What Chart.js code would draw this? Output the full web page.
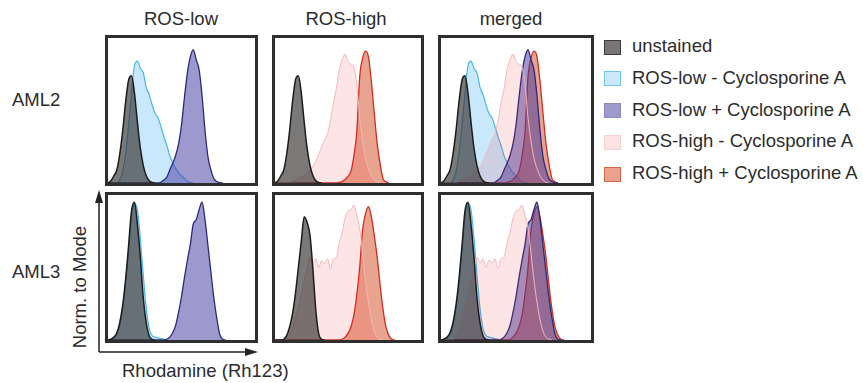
<!DOCTYPE html>
<html>
<head>
<meta charset="utf-8">
<script src="https://cdn.jsdelivr.net/npm/chart.js@4.4.0/dist/chart.umd.min.js"></script>
<style>
  body { margin: 0; background: #fff; width: 863px; height: 383px; position: relative; overflow: hidden;
         font-family: "Liberation Sans", Arial, sans-serif; color: #2c2c2c; }
  .t { position: absolute; font-size: 18.5px; line-height: 18px; white-space: nowrap; }
  .c { text-align: center; width: 200px; }
  canvas { position: absolute; }
  .box { position: absolute; left: 604px; width: 15px; height: 13px; border: 1px solid; }
</style>
</head>
<body>
<div class="t c" style="left:81px;top:10px">ROS-low</div>
<div class="t c" style="left:246px;top:10px">ROS-high</div>
<div class="t c" style="left:411px;top:10px">merged</div>
<div class="t" style="left:12px;top:91px">AML2</div>
<div class="t" style="left:12px;top:263px">AML3</div>
<div class="t c" style="left:-20px;top:278px;transform:rotate(-90deg)">Norm. to Mode</div>
<div class="t" style="left:122px;top:362px">Rhodamine (Rh123)</div>

<svg width="863" height="383" style="position:absolute;left:0;top:0">
  <path d="M99 352 V199 M99 352 H250" stroke="#222" stroke-width="1.5" fill="none"/>
  <path d="M99 190 L95 203 L103 203 Z M258 352 L245 348 L245 356 Z" fill="#222"/>
</svg>

<canvas id="p11" width="153" height="151" style="left:105px;top:35px"></canvas>
<canvas id="p12" width="152" height="151" style="left:272px;top:35px"></canvas>
<canvas id="p13" width="156" height="151" style="left:438px;top:35px"></canvas>
<canvas id="p21" width="153" height="151" style="left:105px;top:192px"></canvas>
<canvas id="p22" width="152" height="151" style="left:272px;top:192px"></canvas>
<canvas id="p23" width="156" height="151" style="left:438px;top:192px"></canvas>

<div id="legend"></div>

<script>
// Rh123 channel (bin positions across the panel)
const channel = [0,3,6,9,12,15,18,21,24,27,30,33,36,39,42,45,48,51,54,57,60,63,66,69,72,75,78,81,84,87,90,93,96,99,102,105,108,111,114,117,120,123,126,129,132,135,138,141,144,147,150];

// AML2 (% of mode)
const unstainedAml2 = [0,1.5,5,9,20,36,56,71,74,62,42,24,12,5,1.5,0.3,0];
const lowMinusAml2 = [0,0,0,0,2,8,20,40,62,81,84,79,76,66,61,54,48,45,39,32,26,19,14,10,7,5,3,1.2,0.3,0];
const lowPlusAml2 = [0,0,0,0,0,0,0,0,0,0,0,0,0,0,0,0,0,0,0.5,2,4,9,13.5,19,27,40,59,76,87,92,85,78,60,36,18,9,3,1,0.3,0];
const highMinusAml2 = [0,0,0,0,0,0.5,1,2,3,4,5,7,9,11.5,15,20,25,30,34,43,55,65,78,85,89,84,82,80,68,45,29,17,10,5,2,0.5,0];
const highPlusAml2 = [0,0,0,0,0,0,0,0,0,0,0,0,0,0,0,0,0,0,0,0,0,0,0.5,1,2.5,4.5,8,18.6,35,73,86,91,87,70,48,27,13,3,0.8,0];

// AML3 (% of mode)
const unstainedAml3 = [0,0.5,2,5,12,24,42,65,89,95,80,57,29,12,3,0.5,0];
const unstainedHighAml3 = [0,0,0,0.5,3,9,18,32,50,68,85,81,72,48,20,4,0.5,0];
const lowMinusAml3 = [0,0,1,4,10,22,40,62,86,94,90,70,45,22,8,3,2,1.5,1,0.5,0];
const lowPlusAml3 = [0,0,0,0,0,0,0,0,0,0,0,0,0,0,0,0,0,0,0,0,0.5,2,5,10,19,30,43,55,66,80,83,90,95,83,65,47,29,15,4,0.5,0];
const highMinusAml3 = [0,0,0,0,0.5,3,8,15,22,31,41,49,57,53,56,50,55,53,56,49,56,57,67,74,84,89,90,93,86,77,60,41,26,14,6,2,0.5,0];
const highPlusAml3 = [0,0,0,0,0,0,0,0,0,0,0,0,0,0,0,0,0,0,0,0,0,0,0,0.5,2,4.6,9,17,31,50,76,87,92,85,72,57,38,21,9,3,0.5,0];

const legendLabels = ['unstained', 'ROS-low - Cyclosporine A', 'ROS-low + Cyclosporine A', 'ROS-high - Cyclosporine A', 'ROS-high + Cyclosporine A'];

const styles = {
  unstained: { fill: 'rgba(55,50,50,0.66)', line: '#1c1c1c', w: 1.5, box: '#7a7574', boxLine: '#3a3a3a' },
  lowMinus:  { fill: 'rgba(135,205,248,0.45)', line: '#4cb6ea', w: 1.2, box: '#cce9fa', boxLine: '#72c6ef' },
  lowPlus:   { fill: 'rgba(68,58,160,0.52)', line: '#2a2a7c', w: 1.3, box: '#9e9acb', boxLine: '#8e8ac0' },
  highMinus: { fill: 'rgba(235,40,40,0.12)', line: '#f4b8b8', w: 1, box: '#fde3e3', boxLine: '#f7d0d0' },
  highPlus:  { fill: 'rgba(211,73,31,0.5)', line: '#d22b1f', w: 1.3, box: '#eba28d', boxLine: '#d9644d' }
};

const frame = {
  id: 'frame',
  afterDraw(chart) {
    const ctx = chart.ctx;
    ctx.save();
    ctx.strokeStyle = '#2e2e2e';
    ctx.lineWidth = 3;
    ctx.strokeRect(1.5, 1.5, chart.width - 3, chart.height - 3);
    ctx.restore();
  }
};

// first entry is drawn on top
function panel(id, sets) {
  new Chart(document.getElementById(id), {
    type: 'line',
    data: {
      labels: channel,
      datasets: sets.map((s, i) => ({
        data: s[1],
        backgroundColor: styles[s[0]].fill,
        borderColor: styles[s[0]].line,
        borderWidth: styles[s[0]].w,
        fill: 'origin',
        pointRadius: 0,
        cubicInterpolationMode: 'monotone',
        order: i
      }))
    },
    options: {
      responsive: false,
      animation: false,
      layout: { padding: 3 },
      scales: {
        x: { display: false },
        y: { display: false, min: 0, max: 100 }
      },
      plugins: {
        legend: { display: false },
        tooltip: { enabled: false }
      }
    },
    plugins: [frame]
  });
}

panel('p11', [['unstained', unstainedAml2], ['lowPlus', lowPlusAml2], ['lowMinus', lowMinusAml2]]);
panel('p12', [['unstained', unstainedAml2], ['highMinus', highMinusAml2], ['highPlus', highPlusAml2]]);
panel('p13', [['unstained', unstainedAml2], ['highMinus', highMinusAml2], ['lowPlus', lowPlusAml2], ['highPlus', highPlusAml2], ['lowMinus', lowMinusAml2]]);
panel('p21', [['unstained', unstainedAml3], ['lowPlus', lowPlusAml3], ['lowMinus', lowMinusAml3]]);
panel('p22', [['unstained', unstainedHighAml3], ['highMinus', highMinusAml3], ['highPlus', highPlusAml3]]);
panel('p23', [['unstained', unstainedAml3], ['highMinus', highMinusAml3], ['lowPlus', lowPlusAml3], ['highPlus', highPlusAml3], ['lowMinus', lowMinusAml3]]);

// legend
const keys = ['unstained', 'lowMinus', 'lowPlus', 'highMinus', 'highPlus'];
const lg = document.getElementById('legend');
keys.forEach((k, i) => {
  const top = 37 + i * 31.8;
  const b = document.createElement('div');
  b.className = 'box';
  b.style.top = (top + 2.5) + 'px';
  b.style.background = styles[k].box;
  b.style.borderColor = styles[k].boxLine;
  lg.appendChild(b);
  const t = document.createElement('div');
  t.className = 't';
  t.style.left = '632px';
  t.style.top = top + 'px';
  t.textContent = legendLabels[i];
  lg.appendChild(t);
});
</script>
</body>
</html>
